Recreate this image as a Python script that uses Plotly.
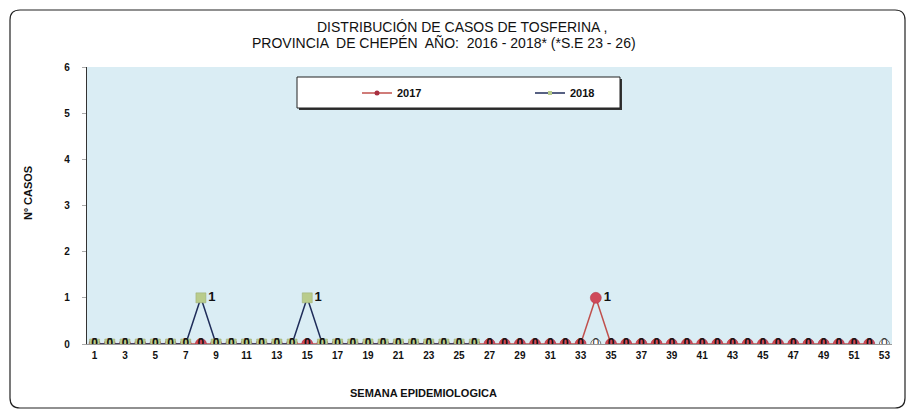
import plotly.graph_objects as go

weeks_all = list(range(1, 54))
base_vals = [0] * 53  # background series (white markers)

weeks_2017 = list(range(1, 53))
vals_2017 = [0] * 52
vals_2017[34 - 1] = 1

weeks_2018 = list(range(1, 27))
vals_2018 = [0] * 26
vals_2018[8 - 1] = 1
vals_2018[15 - 1] = 1

tick_vals = list(range(1, 54, 2))
tick_text = [str(v) for v in tick_vals]
y_ticks = [0, 1, 2, 3, 4, 5, 6]

FONT = "Liberation Sans"

OFF = 8  # page body margin offset
W, H = 915 - OFF, 414 - OFF
# plot area in page pixels
L, R, T, B = 87, 892, 67, 344
pw, ph = R - L, B - T


def px(x):
    return (x - L) / pw


def py(y):
    return (B - y) / ph


def labels(vals):
    return [str(v) for v in vals]


def positions(vals):
    return ["middle right" if v > 0 else "middle center" for v in vals]


def lab_font(vals):
    return dict(family=FONT, size=[13 if v > 0 else 12 for v in vals], color="#111111",
                weight="bold")


fig = go.Figure()

fig.add_trace(go.Scatter(
    x=weeks_all, y=base_vals, mode="markers+text", showlegend=False,
    marker=dict(symbol="circle", size=10, color="white", line=dict(color="#777777", width=1)),
    text=labels(base_vals), textposition="middle center",
    textfont=dict(family=FONT, size=12, color="#333333"), hoverinfo="skip",
))

fig.add_trace(go.Scatter(
    x=weeks_2017, y=vals_2017, mode="lines+markers+text", name="2017", showlegend=False,
    line=dict(color="#c0504d", width=1.5),
    marker=dict(symbol="circle", size=11, color="#cf4a5a", line=dict(color="#b03040", width=0.5)),
    text=labels(vals_2017), textposition=positions(vals_2017),
    textfont=lab_font(vals_2017),
))

fig.add_trace(go.Scatter(
    x=weeks_2018, y=vals_2018, mode="lines+markers+text", name="2018", showlegend=False,
    line=dict(color="#1f2d5a", width=1.5),
    marker=dict(symbol="square", size=10, color="#b9cc8c", line=dict(color="#9aab70", width=0.5)),
    text=labels(vals_2018), textposition=positions(vals_2018),
    textfont=lab_font(vals_2018),
))

# legend entries (small symbols, as in the original legend)
fig.add_trace(go.Scatter(x=[None], y=[None], mode="lines+markers", name="2017",
                         line=dict(color="#c0504d", width=1.5),
                         marker=dict(symbol="circle", size=5, color="#a83040")))
fig.add_trace(go.Scatter(x=[None], y=[None], mode="lines+markers", name="2018",
                         line=dict(color="#1f2d5a", width=1.5),
                         marker=dict(symbol="square", size=4, color="#b9cc8c")))

shapes = []
# outer rounded frame
x0, x1, y0, y1 = px(10), px(905), py(408), py(10)
rx, ry = 10 / pw, 10 / ph
path = (f"M {x0+rx},{y1} L {x1-rx},{y1} Q {x1},{y1} {x1},{y1-ry} "
        f"L {x1},{y0+ry} Q {x1},{y0} {x1-rx},{y0} L {x0+rx},{y0} "
        f"Q {x0},{y0} {x0},{y0+ry} L {x0},{y1-ry} Q {x0},{y1} {x0+rx},{y1} Z")
shapes.append(dict(type="path", xref="paper", yref="paper", path=path,
                   line=dict(color="#222222", width=1.2), fillcolor="rgba(0,0,0,0)", layer="below"))
# legend box shadow + box
shapes.append(dict(type="rect", xref="paper", yref="paper",
                   x0=px(299), x1=px(622), y0=py(110), y1=py(79),
                   line=dict(width=0), fillcolor="#333333", layer="above"))
shapes.append(dict(type="rect", xref="paper", yref="paper",
                   x0=px(297), x1=px(620), y0=py(108), y1=py(77),
                   line=dict(color="#222222", width=1), fillcolor="white", layer="above"))

TXT = "#111111"
annotations = [
    dict(text="DISTRIBUCIÓN DE CASOS DE TOSFERINA ,", x=px(462), y=py(27)),
    dict(text="PROVINCIA  DE CHEPÉN  AÑO:  2016 - 2018* (*S.E 23 - 26)", x=px(444), y=py(43)),
]
for a in annotations:
    a.update(xref="paper", yref="paper", showarrow=False, xanchor="center", yanchor="middle",
             font=dict(family=FONT, size=14, color=TXT))
annotations.append(dict(text="<b>SEMANA EPIDEMIOLOGICA</b>", x=px(423), y=py(393), xref="paper",
                        yref="paper", showarrow=False, xanchor="center", yanchor="middle",
                        font=dict(family=FONT, size=11, color=TXT)))
annotations.append(dict(text="<b>Nº CASOS</b>", x=px(28), y=py(193), xref="paper", yref="paper",
                        showarrow=False, xanchor="center", yanchor="middle", textangle=-90,
                        font=dict(family=FONT, size=11, color=TXT)))

fig.update_layout(
    width=W, height=H,
    margin=dict(l=L - OFF, r=915 - R, t=T - OFF, b=414 - B, autoexpand=False),
    paper_bgcolor="white",
    plot_bgcolor="#daedf4",
    font=dict(family=FONT, size=10, color=TXT),
    shapes=shapes,
    annotations=annotations,
    showlegend=True,
    legend=dict(orientation="h", x=px(357), y=py(93), xanchor="left", yanchor="middle",
                bgcolor="rgba(0,0,0,0)", borderwidth=0, entrywidth=128, entrywidthmode="pixels",
                font=dict(family=FONT, size=11, color=TXT, weight="bold"), itemwidth=30),
    xaxis=dict(range=[0.5, 53.5], tickmode="array", tickvals=tick_vals, ticktext=tick_text,
               showgrid=False, zeroline=False, showline=True, linecolor="#999999", linewidth=1,
               ticks="", tickfont=dict(family=FONT, size=10, color=TXT, weight="bold"),
               ticklabelstandoff=2),
    yaxis=dict(range=[0, 6], tickmode="array", tickvals=y_ticks,
               showgrid=False, zeroline=False, showline=True, linecolor="#333333", linewidth=1.2,
               ticks="outside", ticklen=4, tickcolor="#aaaaaa", ticklabelstandoff=10,
               tickfont=dict(family=FONT, size=10, color=TXT, weight="bold")),
)

fig.write_html("out.html")
